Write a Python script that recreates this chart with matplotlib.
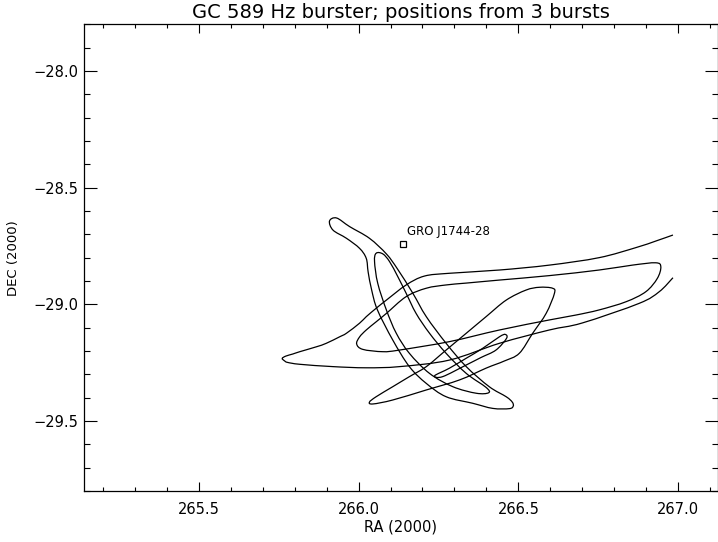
import numpy as np
import matplotlib
matplotlib.use("Agg")
import matplotlib.pyplot as plt
from matplotlib.path import Path
from matplotlib.patches import PathPatch
from matplotlib.ticker import MultipleLocator, ScalarFormatter

# error contours (RA, DEC in degrees, J2000) for the three bursts
# burst 1: banana-shaped region, outer and inner contour
b1_outer_ra = [265.909, 265.931, 265.972, 266.034, 266.087, 266.122, 266.170, 266.212,
               266.274, 266.337, 266.409, 266.462, 266.481, 266.484, 266.472, 266.420,
               266.357, 266.274, 266.212, 266.159, 266.107, 266.059, 266.041, 266.030,
               266.024, 266.003, 265.962, 265.920, 265.909]
b1_outer_dec = [-28.643, -28.630, -28.667, -28.717, -28.784, -28.849, -28.953, -29.053,
                -29.167, -29.267, -29.353, -29.396, -29.419, -29.436, -29.447, -29.446,
                -29.424, -29.396, -29.339, -29.267, -29.153, -29.024, -28.939, -28.862,
                -28.803, -28.760, -28.717, -28.682, -28.643]
b1_inner_ra = [266.055, 266.076, 266.097, 266.123, 266.149, 266.180, 266.222, 266.274,
               266.337, 266.399, 266.407, 266.368, 266.295, 266.222, 266.159, 266.118,
               266.087, 266.060, 266.050, 266.055]
b1_inner_dec = [-28.781, -28.784, -28.817, -28.882, -28.953, -29.039, -29.124, -29.210,
                -29.296, -29.356, -29.379, -29.381, -29.353, -29.296, -29.210, -29.124,
                -29.024, -28.910, -28.817, -28.781]

# burst 2: long east-west region; the outer contour runs off the map grid at the east end
b2_outer_ra = [266.984, 266.930, 266.868, 266.753, 266.597, 266.441, 266.284, 266.206,
               266.149, 266.087, 266.055, 266.024, 266.003, 265.962, 265.941, 265.899,
               265.868, 265.816, 265.794, 265.772, 265.761, 265.769, 265.778, 265.816,
               265.920, 266.024, 266.128, 266.284, 266.441, 266.597, 266.700, 266.878,
               266.941, 266.984]
b2_outer_dec = [-28.703, -28.729, -28.757, -28.800, -28.832, -28.853, -28.867, -28.879,
                -28.917, -28.982, -29.017, -29.053, -29.081, -29.124, -29.139, -29.167,
                -29.182, -29.203, -29.213, -29.222, -29.232, -29.243, -29.249, -29.257,
                -29.267, -29.272, -29.267, -29.239, -29.167, -29.110, -29.080, -28.996,
                -28.946, -28.886]
b2_inner_ra = [265.994, 266.003, 266.024, 266.055, 266.087, 266.149, 266.212, 266.274,
               266.337, 266.441, 266.597, 266.753, 266.857, 266.930, 266.946, 266.935,
               266.899, 266.837, 266.753, 266.680, 266.597, 266.441, 266.284, 266.128,
               266.076, 266.013, 265.994]
b2_inner_dec = [-29.170, -29.140, -29.110, -29.075, -29.039, -28.967, -28.931, -28.917,
                -28.909, -28.896, -28.877, -28.853, -28.832, -28.822, -28.839, -28.889,
                -28.946, -28.989, -29.024, -29.046, -29.067, -29.110, -29.160, -29.196,
                -29.203, -29.193, -29.170]

# burst 3: diagonal region, outer and inner contour
b3_outer_ra = [266.034, 266.055, 266.107, 266.159, 266.212, 266.274, 266.337, 266.399,
               266.462, 266.524, 266.566, 266.607, 266.613, 266.587, 266.545, 266.503,
               266.456, 266.400, 266.316, 266.212, 266.107, 266.045, 266.034]
b3_outer_dec = [-29.419, -29.396, -29.353, -29.310, -29.267, -29.196, -29.124, -29.053,
                -28.982, -28.939, -28.927, -28.931, -28.953, -29.039, -29.124, -29.210,
                -29.243, -29.273, -29.324, -29.367, -29.410, -29.427, -29.419]
b3_inner_ra = [266.238, 266.284, 266.337, 266.388, 266.441, 266.459, 266.463, 266.430,
               266.383, 266.337, 266.263, 266.238]
b3_inner_dec = [-29.306, -29.274, -29.231, -29.189, -29.139, -29.129, -29.146, -29.196,
                -29.228, -29.260, -29.310, -29.306]

# known source in the field
src_name = "GRO J1744-28"
src_ra = 266.1379
src_dec = -28.7408

contours = [
    (b1_outer_ra, b1_outer_dec), (b1_inner_ra, b1_inner_dec),
    (b2_outer_ra, b2_outer_dec), (b2_inner_ra, b2_inner_dec),
    (b3_outer_ra, b3_outer_dec), (b3_inner_ra, b3_inner_dec),
]


def contour_path(ra, dec):
    # Catmull-Rom style cubic Bezier through the contour vertices
    p = np.column_stack([ra, dec])
    if np.allclose(p[0], p[-1]):
        q = p[:-1]
        ext = np.vstack([q[-1:], q, q[:2]])
    else:
        ext = np.vstack([p[:1], p, p[-1:]])
    verts = [ext[1]]
    codes = [Path.MOVETO]
    for i in range(1, len(ext) - 2):
        c1 = ext[i] + (ext[i + 1] - ext[i - 1]) / 6.0
        c2 = ext[i + 1] - (ext[i + 2] - ext[i]) / 6.0
        verts += [c1, c2, ext[i + 1]]
        codes += [Path.CURVE4] * 3
    return Path(verts, codes)


plt.rcParams['font.family'] = 'DejaVu Sans'

fig = plt.figure(figsize=(7.18, 5.42), dpi=100)
ax = fig.add_axes([84 / 718, 51 / 542, 633.5 / 718, 466.7 / 542])

for ra, dec in contours:
    ax.add_patch(PathPatch(contour_path(ra, dec), fill=False, ec="k", lw=0.9))

ax.plot([src_ra], [src_dec], marker="s", ms=5, mfc="none", mec="k", mew=0.9)
ax.annotate(src_name, (src_ra, src_dec), xytext=(3, 9), textcoords="offset points",
            ha="left", va="center", fontsize=8.5)

ax.set_xlim(265.1406, 267.1234)
ax.set_ylim(-29.8, -27.8)

ax.xaxis.set_major_locator(MultipleLocator(0.5))
ax.xaxis.set_minor_locator(MultipleLocator(0.1))
ax.yaxis.set_major_locator(MultipleLocator(0.5))
ax.yaxis.set_minor_locator(MultipleLocator(0.1))
ax.xaxis.set_major_formatter(ScalarFormatter(useOffset=False))

ax.tick_params(which="both", direction="in", top=True, right=True, labelsize=10.5, width=0.8)
ax.tick_params(axis="x", which="major", length=6.5, pad=8)
ax.tick_params(axis="x", which="minor", length=3.2)
ax.tick_params(axis="y", which="major", length=9.1, pad=4)
ax.tick_params(axis="y", which="minor", length=4.6)
for sp in ax.spines.values():
    sp.set_linewidth(0.9)

ax.set_title("GC 589 Hz burster; positions from 3 bursts", fontsize=14, pad=4.5)
ax.set_xlabel("RA (2000)", fontsize=10.5, labelpad=2)
ax.set_ylabel("DEC (2000)", fontsize=9.5, labelpad=10)

fig.savefig("out.png", dpi=100)
